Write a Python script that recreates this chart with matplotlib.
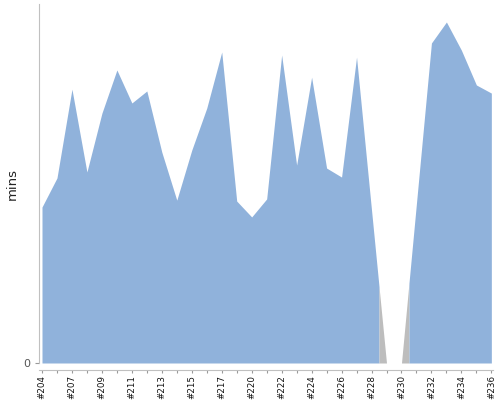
import numpy as np
import matplotlib
matplotlib.use("Agg")
import matplotlib.pyplot as plt

# build numbers on the category axis (two numbers are not present in the trend)
builds = [204, 205, 207, 208, 209, 210, 211, 212, 213, 214, 215, 216, 217, 218,
          220, 221, 222, 223, 224, 225, 226, 227, 228, 229, 230, 231, 232, 233,
          234, 235, 236]
# build duration, minutes
durations = [5.20, 6.17, 9.13, 6.37, 8.33, 9.77, 8.67, 9.07, 7.03, 5.43,
             7.10, 8.50, 10.37, 5.40, 4.87, 5.47, 10.27, 6.60, 9.53, 6.50,
             6.20, 10.20, 5.10, 0.0, 0.0, 5.33, 10.67, 11.37, 10.43, 9.27, 9.00]
results = ["ok"] * 23 + ["aborted", "aborted"] + ["ok"] * 6

colors = {"ok": "#90b2db", "aborted": "#bdbdbd"}

fig = plt.figure(figsize=(5, 4), dpi=100)
ax = fig.add_axes([0.0774, 0.0925, 0.9086, 0.8975])

x = np.arange(len(builds))
y = np.array(durations)

# each build colours the half-segments either side of its point
runs = []
start = 0
for i in range(1, len(results) + 1):
    if i == len(results) or results[i] != results[start]:
        runs.append((start, i - 1, results[start]))
        start = i
for a, b, res in runs:
    lo = max(a - 0.5, 0)
    hi = min(b + 0.5, len(builds) - 1)
    xs = np.unique(np.concatenate([[lo], x[(x > lo) & (x < hi)], [hi]]))
    ys = np.interp(xs, x, y)
    ax.fill_between(xs, 0, ys, color=colors[res], linewidth=0)

ax.set_xlim(-0.22, len(builds) - 1 + 0.11)
ax.set_ylim(0, 11.97)

for s in ["top", "right"]:
    ax.spines[s].set_visible(False)
ax.spines["left"].set_color("#c0c0c0")
ax.spines["bottom"].set_color("#c0c0c0")
ax.spines["bottom"].set_position(("outward", 5))

ax.set_yticks([0])
ax.set_yticklabels(["0"])
ax.tick_params(axis="y", length=3, color="#999999", labelcolor="#555555",
               labelsize=8, pad=3)

ax.set_xticks(x)
ax.set_xticklabels(["#%d" % b if i % 2 == 0 else "" for i, b in enumerate(builds)],
                   rotation=90)
ax.tick_params(axis="x", length=2.5, color="#999999", labelcolor="#111111",
               labelsize=6.3, pad=1)

ax.set_ylabel("mins", fontsize=9.5, color="#222222")
ax.yaxis.set_label_coords(-0.045, 0.5)

fig.savefig("out.png", dpi=100)
